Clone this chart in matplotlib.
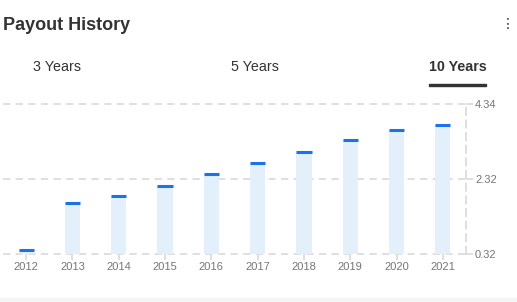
import matplotlib.pyplot as plt
from matplotlib.patches import Rectangle

years = [2012, 2013, 2014, 2015, 2016, 2017, 2018, 2019, 2020, 2021]
payout = [0.43, 1.70, 1.87, 2.15, 2.46, 2.75, 3.06, 3.37, 3.64, 3.79]
ytick_vals = [0.32, 2.32, 4.34]
ytick_labels = ['0.32', '2.32', '4.34']
tabs = ['3 Years', '5 Years', '10 Years']

plt.rcParams['font.family'] = ['Liberation Sans', 'DejaVu Sans']

W, H = 517, 302
fig = plt.figure(figsize=(W / 100, H / 100), dpi=100)
fig.patch.set_facecolor('white')

ax = fig.add_axes([3 / W, 1 - 254 / H, 463 / W, 150 / H])

grid_col = '#dcdcdc'
bw = 0.33
ax.bar(years, payout, width=bw, color='#e3effb', zorder=2)
ax.hlines(payout, [y - bw / 2 for y in years], [y + bw / 2 for y in years],
          color='#1a73e8', linewidth=2.2, zorder=3)

ax.set_xlim(2011.5, 2021.5)
ax.set_ylim(0.32, 4.34)

for v in ytick_vals:
    ax.axhline(v, color=grid_col, linewidth=1.3, linestyle=(0, (4, 3)), zorder=1, clip_on=False)

for s in ['top', 'left', 'bottom']:
    ax.spines[s].set_visible(False)
ax.spines['right'].set_color(grid_col)
ax.spines['right'].set_linewidth(1.3)
ax.spines['right'].set_linestyle((0, (4, 3)))

ax.yaxis.tick_right()
ax.set_yticks(ytick_vals)
ax.set_yticklabels(ytick_labels)
ax.set_xticks(years)
ax.set_xticklabels([str(y) for y in years])
ax.tick_params(axis='y', colors=grid_col, labelcolor='#757575', labelsize=8, length=5, width=1.3, pad=1.5)
ax.tick_params(axis='x', colors=grid_col, labelcolor='#757575', labelsize=8, length=4, width=1.3, pad=2)

fig.text(3 / W, 1 - 25 / H, 'Payout History', fontsize=13, fontweight='bold', color='#333333', va='center')
fig.text(508 / W, 1 - 24 / H, '\u22ee', fontsize=10, color='#333333', va='center', ha='center',
         family=['DejaVu Sans'])

tab_x = [33, 231, 429]
for i, t in enumerate(tabs):
    fig.text(tab_x[i] / W, 1 - 67 / H, t, fontsize=10.3, color='#333333', va='center',
             fontweight='bold' if i == 2 else 'normal')
fig.add_artist(Rectangle((429 / W, 1 - 86 / H), 57 / W, 2 / H, color='#333333', transform=fig.transFigure))
fig.add_artist(Rectangle((0, 0), 1, 4 / H, color='#f5f5f5', transform=fig.transFigure))

fig.savefig('out.png', dpi=100)
